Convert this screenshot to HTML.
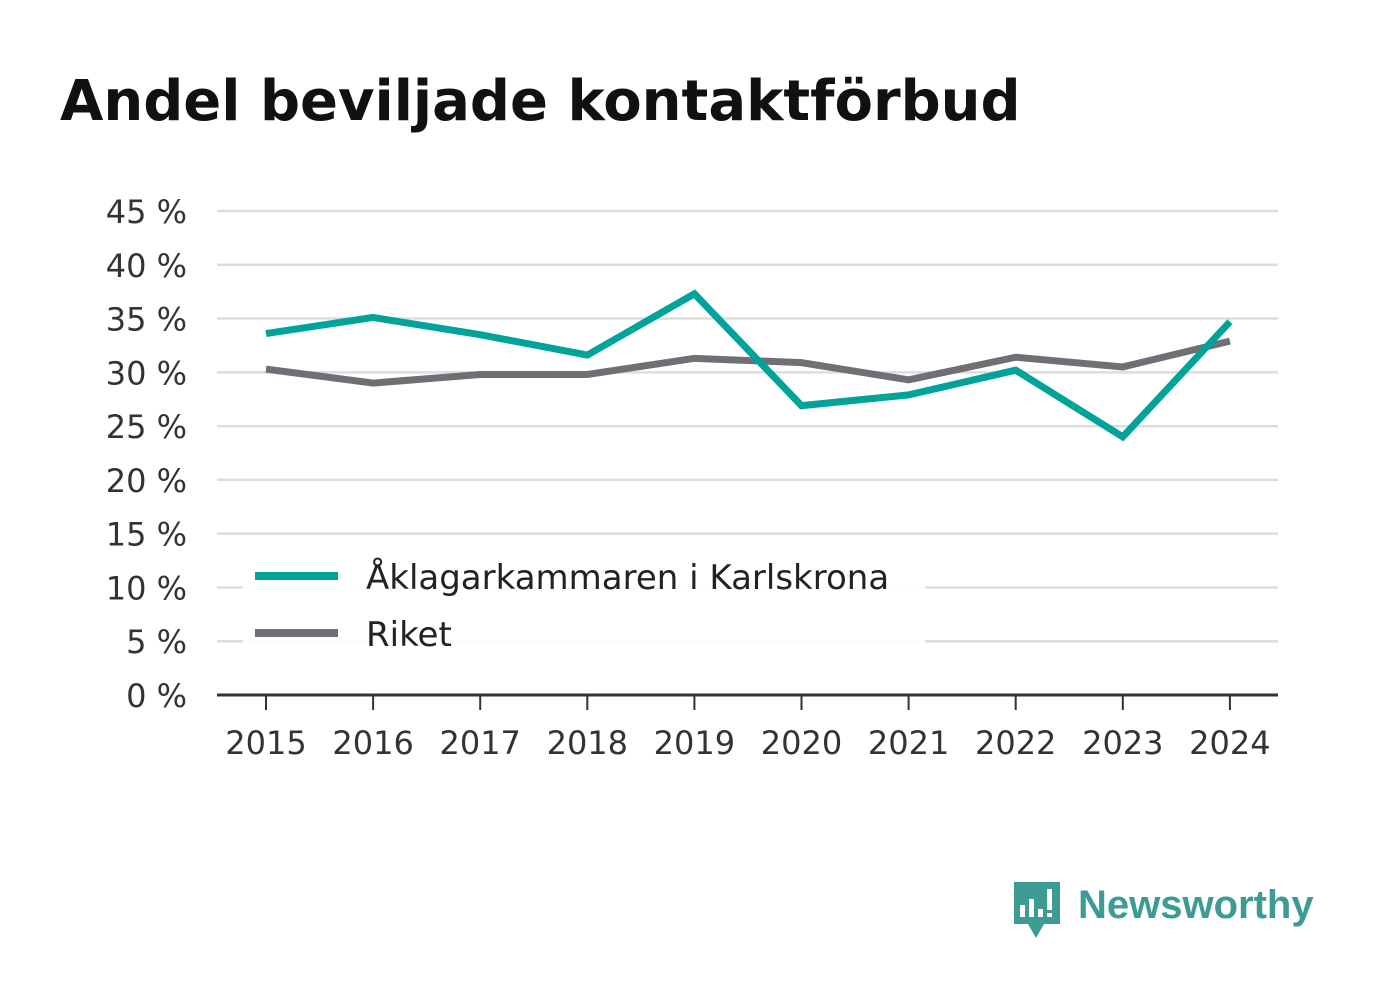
<!DOCTYPE html>
<html><head><meta charset="utf-8"><style>
body{margin:0;background:#fff;width:1382px;height:999px;overflow:hidden;font-family:"DejaVu Sans","Liberation Sans",sans-serif}
</style></head><body>
<svg width="1382" height="999">
<text x="60" y="120" font-size="56" font-weight="bold" fill="#111">Andel beviljade kontaktförbud</text>
<g id="grid"></g>
<g id="lines"></g>
<g>
<rect x="243" y="548" width="682" height="96" fill="#fff" opacity="0.9"/>
<line x1="255" y1="576" x2="338" y2="576" stroke="#00a39a" stroke-width="8"/>
<text x="366" y="589" font-size="34" fill="#222">Åklagarkammaren i Karlskrona</text>
<line x1="255" y1="633" x2="338" y2="633" stroke="#706f76" stroke-width="8"/>
<text x="366" y="646" font-size="34" fill="#222">Riket</text>
</g>
<g>
<path d="M1014 882h46v42h-16l-8 14l-8-14h-14z" fill="#3d9b94"/>
<rect x="1020" y="905" width="5" height="12" fill="#fff"/><rect x="1029" y="899" width="5" height="18" fill="#fff"/><rect x="1038" y="909" width="5" height="8" fill="#fff"/><rect x="1047" y="889" width="5" height="21" fill="#fff"/><rect x="1047" y="913" width="5" height="4" fill="#fff"/>
<text x="1078" y="918" font-size="40" font-weight="bold" fill="#3d9b94" font-family="Liberation Sans, sans-serif">Newsworthy</text>
</g>
</svg>
<script>
const years=["2015","2016","2017","2018","2019","2020","2021","2022","2023","2024"];
const karlskrona=[33.6,35.1,33.5,31.6,37.3,26.9,27.9,30.2,24.0,34.7];
const riket=[30.3,29.0,29.8,29.8,31.3,30.9,29.3,31.4,30.5,32.9];
const yTicks=[0,5,10,15,20,25,30,35,40,45];
const NS="http://www.w3.org/2000/svg";
const x=i=>266+i*107.1;
const y=v=>695-v*10.756;
const grid=document.getElementById('grid');
function mk(tag,attrs,parent){const e=document.createElementNS(NS,tag);for(const k in attrs)e.setAttribute(k,attrs[k]);parent.appendChild(e);return e;}
yTicks.forEach(t=>{
  if(t>0){const l=mk('line',{x1:217,x2:1278,y1:y(t),y2:y(t),stroke:'#ddd','stroke-width':2.5},grid);
  
  }
  const tx=mk('text',{x:187,y:y(t)+12,'font-size':32,fill:'#333','text-anchor':'end'},grid);
  tx.textContent=t+' %';
  
  
});
const ax=mk('line',{x1:217,x2:1278,y1:695,y2:695,stroke:'#333','stroke-width':3},grid);


years.forEach((yr,i)=>{
  const tk=mk('line',{x1:x(i),x2:x(i),y1:695,y2:710,stroke:'#333','stroke-width':2},grid);
  
  
  const tx=mk('text',{x:x(i),y:754,'font-size':32,fill:'#333','text-anchor':'middle'},grid);
  tx.textContent=yr;
  
  
});
const lines=document.getElementById('lines');
[[riket,'#706f76','line-riket'],[karlskrona,'#00a39a','line-karlskrona']].forEach(([d,c,n])=>{
  const p=mk('polyline',{points:d.map((v,i)=>x(i)+','+y(v)).join(' '),fill:'none',stroke:c,'stroke-width':7,'stroke-linejoin':'miter'},lines);
  
  
});
</script>
</body></html>
